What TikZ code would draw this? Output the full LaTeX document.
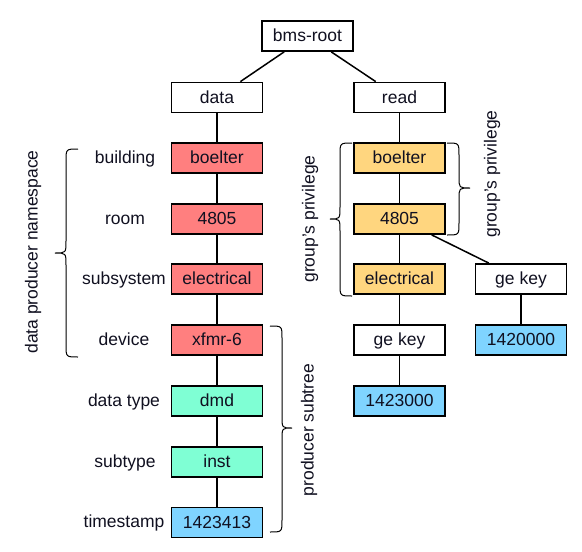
\documentclass[tikz,border=0pt]{standalone}
\usepackage{fontspec}
\setmainfont{Liberation Sans}
\definecolor{txt}{HTML}{101020}
\definecolor{cred}{HTML}{FF7F7F}
\definecolor{caqua}{HTML}{7FFFD4}
\definecolor{cblue}{HTML}{7FD4FF}
\definecolor{corange}{HTML}{FFD67F}
\begin{document}
\begin{tikzpicture}[x=1pt,y=-1pt,
  font=\fontsize{17.5}{20}\selectfont, text=txt,
  box/.style={draw=black, line width=1.8pt, minimum width=91pt, minimum height=30pt, inner sep=0pt, text height=13.5pt, text depth=2pt, fill=white},
  redbox/.style={box, fill=cred},
  aquabox/.style={box, fill=caqua},
  bluebox/.style={box, fill=cblue},
  orbox/.style={box, fill=corange},
  edge/.style={line width=1.5pt},
  thinedge/.style={line width=0.9pt},
  bracepath/.style={line width=1pt},
  lab/.style={inner sep=0pt, text height=13.5pt, text depth=2pt},
  rlab/.style={inner sep=0pt, rotate=90}]
\useasboundingbox (0,0) rectangle (582,552);
% nodes
\node[box] (root) at (307.5,36) {bms-root};
\node[box] (data) at (217,97.5) {data};
\node[box] (read) at (399.5,97.5) {read};
\node[redbox] (lb) at (217,158) {boelter};
\node[redbox] (lr) at (217,219) {4805};
\node[redbox] (ls) at (217,279) {electrical};
\node[redbox] (ld) at (217,340) {xfmr-6};
\node[aquabox] (lt) at (217,401) {dmd};
\node[aquabox] (lst) at (217,462) {inst};
\node[bluebox] (lts) at (217,522.5) {1423413};
\node[orbox] (rb) at (399.5,158) {boelter};
\node[orbox] (rr) at (399.5,219) {4805};
\node[orbox] (rs) at (399.5,279) {electrical};
\node[box] (rk) at (399.5,340) {ge key};
\node[bluebox] (rv) at (399.5,401) {1423000};
\node[box] (gk) at (521,279) {ge key};
\node[bluebox] (gv) at (521,340) {1420000};
% labels
\node[lab] (t1) at (125,158) {building};
\node[lab] (t2) at (125,219) {room};
\node[lab] (t3) at (124,279) {subsystem};
\node[lab] (t4) at (124,340) {device};
\node[lab] (t5) at (124,401) {data type};
\node[lab] (t6) at (125,462) {subtype};
\node[lab] (t7) at (124,522) {timestamp};
\node[rlab] (n1) at (33,252) {data producer namespace};
\node[rlab] (n2) at (309,430) {producer subtree};
\node[rlab] (n3) at (310,219) {group's privilege};
\node[rlab] (n4) at (492,174) {group's privilege};
% edges
\draw[edge] (root) -- (data);
\draw[edge] (root) -- (read);
\draw[edge] (data) -- (lb);
\draw[edge] (lb) -- (lr);
\draw[edge] (lr) -- (ls);
\draw[edge] (ls) -- (ld);
\draw[edge] (ld) -- (lt);
\draw[edge] (lt) -- (lst);
\draw[edge] (lst) -- (lts);
\draw[edge] (read) -- (rb);
\draw[edge] (rb) -- (rr);
\draw[edge] (rr) -- (rs);
\draw[thinedge] (rs) -- (rk);
\draw[edge] (rk) -- (rv);
\draw[edge] (rr) -- (gk);
\draw[edge] (gk) -- (gv);
% braces
\draw[bracepath] (78,149) .. controls (66,149) .. (66,161) -- (66,241) .. controls (66,253) .. (55,253) .. controls (66,253) .. (66,265) -- (66,345) .. controls (66,357) .. (78,357);
\draw[bracepath] (270,326) .. controls (282,326) .. (282,338) -- (282,416) .. controls (282,428) .. (292,428) .. controls (282,428) .. (282,440) -- (282,520) .. controls (282,532) .. (270,532);
\draw[bracepath] (352,143) .. controls (340,143) .. (340,155) -- (340,207) .. controls (340,219) .. (330,219) .. controls (340,219) .. (340,231) -- (340,284) .. controls (340,296) .. (352,296);
\draw[bracepath] (447,143) .. controls (459,143) .. (459,155) -- (459,177) .. controls (459,188) .. (470,188) .. controls (459,188) .. (459,199) -- (459,223) .. controls (459,235) .. (447,235);
\end{tikzpicture}
\end{document}
